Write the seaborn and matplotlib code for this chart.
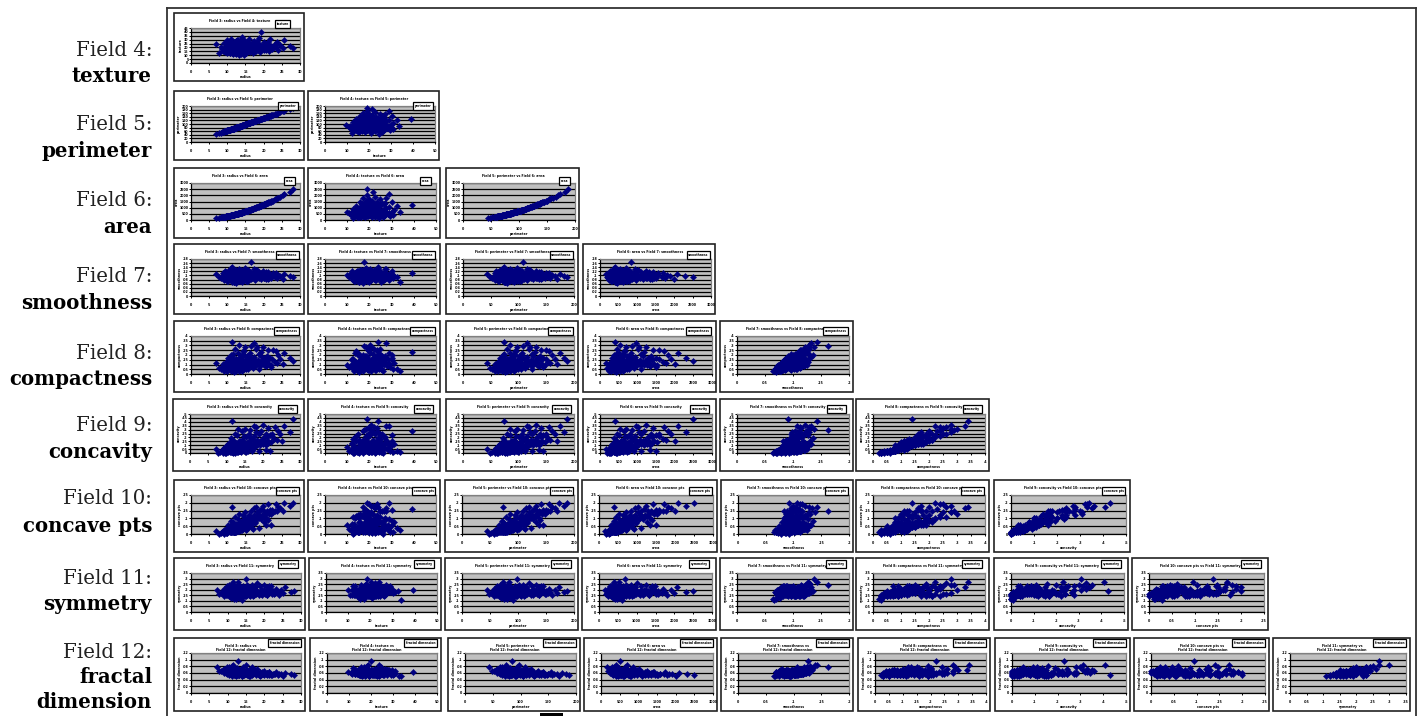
import numpy as np
import pandas as pd
import matplotlib
matplotlib.use("Agg")
import matplotlib.pyplot as plt
from matplotlib.patches import Rectangle
import seaborn as sns

radius = [7.0,7.7,8.2,8.6,8.9,9.0,9.3,9.5,9.7,9.8,
  10.0,10.2,10.3,10.5,10.6,10.7,10.9,11.0,11.1,11.2,
  11.3,11.4,11.5,11.6,11.7,11.8,11.9,12.0,12.0,12.1,
  12.2,12.3,12.4,12.5,12.5,12.6,12.7,12.8,12.9,13.0,
  13.0,13.1,13.2,13.3,13.4,13.4,13.5,13.6,13.7,13.8,
  13.9,14.0,14.1,14.2,14.3,14.4,14.5,14.6,14.7,14.8,
  14.9,15.0,15.1,15.3,15.5,15.6,15.8,16.0,16.1,16.3,
  16.5,16.7,17.0,17.2,17.4,17.6,17.8,18.0,18.2,18.4,
  18.6,18.8,19.0,19.2,19.4,19.6,19.8,20.0,20.2,20.4,
  20.6,20.8,21.0,21.2,21.4,21.7,22.0,22.3,23.0,23.3,
  23.6,24.0,24.6,25.2,25.7,27.2,28.1,
  9.2,9.6,10.1,10.4,10.8,11.0,11.3,11.5,11.8,12.0,
  12.2,12.4,12.6,12.8,13.0,13.2,13.4,13.6,13.8,14.0,
  9.4,9.9,10.3,10.7,11.1,11.4,11.7,12.1,12.3,12.5,
  12.7,12.9,13.1,13.3,13.5,13.7,13.9,14.1,14.3,14.5,
  14.7,15.0,15.2,15.4,15.7,16.0,16.3,16.6,17.0,17.4,
  10.0,10.6,11.2,11.6,11.9,12.2,12.6,13.0,13.4,13.8,
  14.2,14.6,15.1,15.6,16.2,16.8,17.5,18.1,18.7,19.3,
  20.0,20.6,21.2,21.9,22.5,11.4,11.9,12.3,12.9,13.5]
texture = [24.5,12.4,21.0,18.2,15.3,26.0,14.8,22.5,17.0,12.9,
  29.5,17.5,19.2,15.6,24.0,13.4,20.6,16.4,30.7,14.9,
  18.1,23.1,11.9,20.0,15.1,26.6,17.8,13.7,22.0,19.0,
  15.0,28.2,16.7,12.0,24.4,18.9,21.4,14.2,20.2,17.2,
  25.0,15.5,19.9,10.8,22.8,16.1,27.9,18.4,13.4,21.0,
  16.8,33.8,19.3,14.5,23.6,17.5,9.7,20.7,25.6,15.9,
  18.6,22.1,13.0,27.2,16.3,21.6,19.0,31.1,14.9,24.2,
  17.7,20.4,12.5,26.4,18.8,23.0,15.4,21.9,28.9,17.1,
  19.7,24.9,14.1,22.3,39.3,18.0,20.8,16.5,26.8,21.5,
  17.8,25.7,19.5,23.2,15.7,30.4,21.3,18.6,24.8,20.0,
  27.4,17.3,22.6,19.0,29.0,21.5,18.9,
  16.0,20.5,14.2,23.3,18.4,27.1,12.8,19.6,25.2,15.1,
  21.7,17.3,29.0,13.9,22.4,16.6,24.8,18.9,11.5,20.1,
  14.6,26.4,19.0,17.0,23.9,15.5,21.2,13.2,28.3,18.1,
  16.9,24.1,20.3,12.1,19.5,26.0,15.8,22.2,17.7,30.2,
  14.1,20.9,25.5,18.2,16.3,23.5,13.6,21.1,19.2,27.7,
  17.4,12.6,22.9,15.2,20.0,24.6,18.7,14.8,28.8,16.2,
  21.8,19.9,13.3,25.9,17.9,22.7,15.9,20.6,32.5,18.5,
  24.3,16.8,27.0,21.0,19.4,23.8,14.4,17.1,30.0,20.4]
perimeter = [44,49,52,55,57,58,60,61,63,63,
  64,65,66,67,68,69,70,71,71,72,
  73,73,74,75,75,76,77,77,78,78,
  79,79,80,81,80,81,82,83,84,84,
  85,85,86,86,87,87,88,88,90,90,
  90,91,92,93,94,94,95,96,96,97,
  98,98,99,101,102,103,104,105,106,108,
  109,110,112,113,115,116,118,119,120,122,
  123,125,126,127,129,130,132,133,134,136,
  137,138,140,141,142,145,148,150,153,155,
  157,160,166,170,174,182,188,
  59,61,65,67,69,71,73,74,76,77,
  78,80,81,82,84,85,86,88,89,90,
  60,63,66,69,72,73,75,78,79,81,
  82,83,85,86,87,88,90,91,93,94,
  96,97,99,101,103,105,107,110,112,115,
  64,68,72,74,76,79,81,83,87,89,
  92,95,98,103,106,111,116,120,124,127,
  132,137,140,145,150,74,77,80,84,88]
area = [150,180,205,228,240,250,265,280,290,298,
  310,320,330,340,350,357,370,380,385,395,
  400,405,415,420,430,435,440,450,448,455,
  460,470,475,480,485,490,500,510,520,530,
  525,535,545,550,560,555,570,575,585,595,
  605,610,625,635,640,650,660,670,680,690,
  700,710,715,730,750,760,790,800,815,830,
  850,880,900,930,950,975,1000,1020,1050,1070,
  1090,1110,1140,1170,1190,1210,1240,1260,1290,1310,
  1340,1370,1390,1420,1450,1490,1520,1570,1680,1710,
  1760,1810,1900,2000,2080,2300,2500,
  262,285,315,335,362,378,398,412,433,447,
  462,477,492,508,524,541,557,574,592,609,
  273,303,328,355,385,405,426,455,470,485,
  500,516,532,549,566,583,600,618,636,654,
  672,700,720,740,770,800,830,865,910,955,
  310,349,390,420,440,460,493,526,555,590,
  628,660,710,755,822,885,965,1035,1100,1160,
  1250,1330,1400,1490,1575,402,438,466,512,560]
smoothness = [.106,.092,.087,.098,.112,.078,.103,.085,.119,.072,
  .095,.108,.083,.125,.090,.101,.076,.114,.088,.097,
  .130,.081,.105,.092,.069,.110,.099,.086,.118,.094,
  .075,.104,.089,.122,.096,.082,.109,.093,.127,.084,
  .100,.071,.113,.091,.106,.079,.098,.117,.087,.103,
  .095,.066,.111,.090,.124,.085,.102,.077,.108,.094,
  .138,.083,.099,.115,.088,.105,.073,.096,.120,.092,
  .163,.086,.107,.097,.112,.080,.101,.128,.091,.104,
  .089,.116,.095,.084,.110,.098,.121,.087,.103,.093,
  .082,.109,.097,.115,.090,.106,.086,.100,.094,.112,
  .088,.104,.096,.083,.107,.099,.091,
  .085,.110,.075,.121,.094,.132,.080,.101,.068,.115,
  .090,.127,.083,.106,.078,.119,.097,.072,.112,.087,
  .124,.079,.103,.092,.136,.070,.108,.084,.098,.117,
  .076,.105,.129,.088,.113,.081,.095,.122,.074,.100,
  .118,.086,.107,.073,.126,.091,.110,.082,.099,.133,
  .077,.114,.093,.104,.069,.120,.089,.109,.080,.125,
  .096,.116,.071,.102,.087,.111,.083,.128,.094,.106,
  .090,.119,.085,.100,.113,.143,.097,.065,.123,.078]
compactness = [.12,.06,.05,.07,.11,.03,.08,.04,.13,.03,
  .07,.10,.04,.15,.06,.07,.03,.12,.05,.08,
  .19,.04,.09,.06,.02,.11,.07,.05,.14,.07,
  .03,.10,.06,.16,.08,.05,.12,.08,.22,.05,
  .09,.03,.13,.07,.10,.04,.08,.17,.06,.11,
  .09,.03,.15,.08,.24,.06,.10,.05,.13,.09,
  .28,.07,.11,.19,.08,.13,.05,.12,.20,.10,
  .29,.09,.16,.12,.18,.08,.14,.26,.11,.15,
  .10,.21,.13,.09,.23,.14,.28,.10,.17,.12,
  .08,.19,.15,.25,.11,.17,.10,.16,.13,.24,
  .12,.20,.16,.11,.22,.17,.14,
  .10,.07,.07,.10,.15,.18,.10,.05,.05,.09,
  .12,.13,.09,.06,.10,.09,.18,.08,.07,.13,
  .11,.11,.17,.14,.20,.06,.07,.12,.16,.10,
  .09,.05,.30,.15,.06,.13,.19,.09,.09,.20,
  .24,.15,.05,.08,.15,.19,.22,.12,.06,.33,
  .10,.07,.16,.21,.04,.26,.13,.08,.11,.10,
  .21,.11,.07,.16,.17,.09,.14,.28,.05,.19,
  .15,.08,.16,.07,.25,.34,.04,.03,.15,.12]
concavity = [.05,.0,.01,.02,.04,.0,.03,.0,.09,.0,
  .02,.05,.01,.11,.02,.03,.01,.07,.01,.03,
  .16,.01,.04,.02,.0,.06,.03,.01,.10,.03,
  .01,.05,.02,.13,.04,.02,.08,.04,.23,.02,
  .05,.01,.09,.03,.06,.02,.05,.15,.03,.08,
  .06,.01,.13,.05,.28,.04,.08,.03,.12,.07,
  .31,.05,.09,.20,.06,.13,.03,.11,.24,.09,
  .30,.08,.18,.12,.22,.08,.15,.33,.11,.17,
  .11,.25,.15,.10,.28,.17,.36,.13,.21,.16,
  .10,.24,.20,.32,.15,.23,.14,.22,.18,.33,
  .17,.28,.24,.16,.34,.27,.43,
  .06,.03,.03,.07,.10,.12,.06,.01,.01,.05,
  .08,.09,.04,.02,.05,.04,.15,.03,.02,.08,
  .06,.05,.12,.10,.19,.02,.03,.07,.11,.05,
  .04,.01,.31,.11,.02,.08,.14,.04,.04,.16,
  .22,.11,.01,.03,.10,.15,.20,.08,.02,.35,
  .05,.03,.11,.17,.01,.24,.09,.03,.06,.05,
  .17,.07,.03,.12,.14,.04,.09,.27,.02,.15,
  .11,.04,.13,.03,.24,.41,.01,.0,.10,.07]
concave_pts = [.02,.0,.005,.01,.015,.0,.012,.004,.03,.006,
  .013,.022,.01,.045,.016,.018,.012,.033,.012,.02,
  .06,.014,.024,.019,.01,.032,.022,.016,.048,.024,
  .016,.03,.021,.062,.029,.023,.042,.03,.095,.025,
  .034,.02,.05,.03,.04,.025,.036,.075,.032,.05,
  .043,.028,.068,.042,.125,.04,.056,.038,.072,.054,
  .14,.05,.064,.105,.06,.08,.052,.08,.12,.075,
  .147,.075,.11,.09,.125,.08,.105,.17,.095,.12,
  .10,.145,.115,.10,.16,.125,.18,.115,.145,.13,
  .105,.15,.14,.19,.13,.155,.13,.155,.15,.19,
  .145,.175,.165,.15,.20,.18,.20,
  .028,.017,.017,.035,.048,.058,.034,.015,.012,.032,
  .045,.048,.028,.022,.035,.032,.076,.029,.025,.05,
  .028,.026,.055,.048,.085,.018,.023,.04,.058,.033,
  .03,.018,.13,.06,.024,.05,.075,.035,.035,.085,
  .11,.06,.025,.035,.06,.083,.1,.06,.035,.165,
  .022,.02,.055,.078,.014,.11,.05,.028,.04,.04,
  .087,.05,.035,.07,.08,.04,.07,.14,.04,.095,
  .08,.06,.09,.055,.14,.17,.02,.013,.06,.045]
symmetry = [.20,.16,.17,.19,.21,.14,.18,.16,.23,.15,
  .18,.19,.17,.24,.15,.20,.13,.21,.18,.17,
  .25,.16,.20,.18,.12,.19,.17,.16,.22,.19,
  .14,.18,.16,.20,.19,.15,.21,.17,.27,.16,
  .18,.13,.22,.15,.17,.14,.20,.19,.16,.21,
  .17,.11,.19,.18,.23,.15,.20,.16,.18,.17,
  .30,.14,.19,.24,.17,.16,.15,.18,.21,.16,
  .24,.17,.20,.15,.22,.16,.19,.26,.18,.17,
  .15,.23,.19,.16,.20,.17,.24,.18,.16,.19,
  .15,.22,.17,.23,.18,.20,.16,.19,.17,.21,
  .18,.15,.20,.17,.22,.18,.19,
  .21,.15,.19,.16,.22,.18,.20,.14,.18,.16,
  .20,.17,.23,.15,.19,.14,.22,.19,.15,.20,
  .16,.21,.14,.22,.19,.17,.15,.23,.20,.15,
  .19,.14,.20,.23,.14,.21,.16,.15,.20,.17,
  .14,.22,.15,.20,.19,.14,.16,.21,.15,.22,
  .19,.15,.22,.14,.17,.16,.23,.15,.21,.17,
  .14,.16,.20,.22,.15,.14,.21,.17,.19,.15,
  .20,.15,.21,.23,.16,.27,.14,.12,.18,.22]
fractal = [.078,.066,.065,.069,.072,.060,.068,.063,.078,.058,
  .070,.071,.065,.078,.062,.068,.058,.072,.065,.067,
  .081,.062,.067,.063,.055,.068,.066,.061,.073,.064,
  .057,.066,.062,.074,.065,.060,.067,.063,.097,.059,
  .063,.055,.068,.060,.063,.056,.062,.070,.059,.065,
  .062,.051,.066,.059,.078,.058,.063,.056,.064,.060,
  .083,.056,.061,.069,.058,.062,.052,.061,.072,.058,
  .077,.055,.062,.059,.066,.054,.060,.073,.056,.061,
  .055,.064,.058,.054,.062,.057,.067,.055,.060,.056,
  .053,.060,.057,.063,.055,.058,.054,.058,.056,.062,
  .054,.058,.056,.052,.060,.057,.055,
  .066,.060,.070,.062,.058,.070,.068,.056,.063,.060,
  .069,.064,.055,.058,.066,.060,.056,.062,.058,.070,
  .064,.072,.055,.067,.075,.060,.056,.065,.068,.058,
  .064,.054,.070,.068,.056,.066,.052,.060,.066,.055,
  .058,.068,.054,.062,.065,.052,.056,.063,.068,.070,
  .068,.056,.052,.058,.064,.060,.066,.055,.062,.063,
  .053,.056,.060,.054,.062,.056,.064,.060,.052,.058,
  .056,.060,.062,.054,.057,.085,.055,.050,.060,.066]

xFields = ["radius", "texture", "perimeter", "area", "smoothness", "compactness", "concavity", "concave pts", "symmetry"]
yFields = ["texture", "perimeter", "area", "smoothness", "compactness", "concavity", "concave pts", "symmetry", "fractal dimension"]
fieldNumbers = [3, 4, 5, 6, 7, 8, 9, 10, 11]
rowNumbers = [4, 5, 6, 7, 8, 9, 10, 11, 12]

data = pd.DataFrame({"radius": radius, "texture": texture, "perimeter": perimeter, "area": area,
  "smoothness": smoothness, "compactness": compactness, "concavity": concavity,
  "concave pts": concave_pts, "symmetry": symmetry, "fractal dimension": fractal})

xTicks = {"radius": (30, 5), "texture": (50, 10), "perimeter": (200, 50), "area": (3000, 500),
  "smoothness": (.2, .05), "compactness": (.4, .05), "concavity": (.5, .1), "concave pts": (.25, .05), "symmetry": (.35, .05)}
yTicks = {"texture": (45, 5), "perimeter": (200, 20), "area": (3000, 500), "smoothness": (.18, .02),
  "compactness": (.4, .05), "concavity": (.5, .05), "concave pts": (.25, .05), "symmetry": (.35, .05), "fractal dimension": (.12, .02)}

# card edges in pixels, one row of the triangle at a time
rowY = [(13, 81), (91, 160), (168, 238), (244, 314), (321, 392), (399, 471), (480, 552), (558, 630), (638, 711)]
colX = [
  [(174, 304)],
  [(174, 304), (308, 439)],
  [(174, 304), (308, 440), (446, 579)],
  [(174, 304), (308, 440), (446, 578), (583, 715)],
  [(174, 304), (308, 440), (446, 578), (583, 716), (720, 853)],
  [(173, 304), (308, 440), (446, 578), (583, 716), (720, 853), (856, 989)],
  [(174, 304), (308, 440), (445, 578), (582, 717), (721, 853), (856, 989), (994, 1130)],
  [(174, 305), (309, 441), (445, 578), (582, 716), (720, 853), (856, 989), (994, 1128), (1132, 1268)],
  [(174, 305), (310, 441), (448, 580), (584, 717), (721, 853), (858, 990), (995, 1130), (1134, 1269), (1273, 1410)],
]
labelY = [(51, 76), (125, 151), (201, 227), (277, 303), (354, 379), (426, 452), (499, 526), (578, 604), (652, 677, 702)]
legendAbove = [4, 0, 2, 4, 5, 5, 4, 9, 10]   # px from legend centre up to plot top
legendRight = [10, 2, 5, 1, 1, 3, 1, 3, 0]   # px from legend right edge to plot right

W, H = 1422, 716
tinyFont = 2.3


def pixelRect(x0, y0, x1, y1):
  return [x0 / W, 1 - y1 / H, (x1 - x0) / W, (y1 - y0) / H]


def tickFormat(v):
  return ("%g" % v).replace("0.", ".") if v < 1 else "%g" % v


def drawPanel(fig, r, c, card):
  xName = xFields[c]
  yName = yFields[r]
  x0, x1, y0, y1 = card
  fig.add_artist(Rectangle((x0 / W, 1 - y1 / H), (x1 - x0) / W, (y1 - y0) / H, transform=fig.transFigure,
    facecolor="white", edgecolor="#222222", linewidth=1.2, zorder=-1))
  axLeft, axRight, axTop, axBottom = x0 + 17, x1 - 4, y0 + 15, y1 - 18
  ax = fig.add_axes(pixelRect(axLeft, axTop, axRight, axBottom))
  ax.set_facecolor("#C0C0C0")
  xMax, xStep = xTicks[xName]
  yMax, yStep = yTicks[yName]
  sns.scatterplot(data=data, x=xName, y=yName, ax=ax, color="#000080", marker="D", s=10, linewidth=0.3,
    edgecolor="#000080", clip_on=False, zorder=3)
  ax.set_xlim(0, xMax)
  ax.set_ylim(0, yMax)
  xt = np.arange(0, xMax + xStep / 2, xStep)
  yt = np.arange(0, yMax + yStep / 2, yStep)
  ax.set_xticks(xt)
  ax.set_yticks(yt)
  ax.set_xticklabels([tickFormat(v) for v in xt], fontsize=tinyFont, fontweight="bold")
  ax.set_yticklabels([tickFormat(v) for v in yt], fontsize=tinyFont, fontweight="bold")
  ax.tick_params(axis="x", length=1.2, width=0.7, pad=4, color="black")
  ax.tick_params(axis="y", length=1.2, width=0.7, pad=0.6, color="black")
  ax.grid(axis="y", color="black", linewidth=0.9, zorder=1)
  ax.set_axisbelow(True)
  ax.set_xlabel(xName, fontsize=tinyFont, fontweight="bold", labelpad=0.5)
  ax.set_ylabel(yName, fontsize=tinyFont, fontweight="bold", labelpad=0.5)
  for side in ["left", "bottom"]:
    ax.spines[side].set_color("black")
    ax.spines[side].set_linewidth(0.9)
  for side in ["top", "right"]:
    ax.spines[side].set_color("#808080")
    ax.spines[side].set_linewidth(0.9)

  axH = axBottom - axTop
  axW = axRight - axLeft
  title = "Field %d: %s vs Field %d: %s" % (fieldNumbers[c], xName, rowNumbers[r], yName)
  titleAbove = 7
  if r == 8:
    title = "Field %d: %s vs\nField %d: %s" % (fieldNumbers[c], xName, rowNumbers[r], yName)
    titleAbove = 5
  ax.text(0.45, 1 + titleAbove / axH, title, transform=ax.transAxes, fontsize=tinyFont, fontweight="bold",
    ha="center", va="center", linespacing=0.9, clip_on=False)
  ax.text(1 - (legendRight[r] + 1.5) / axW, 1 + legendAbove[r] / axH, yName, transform=ax.transAxes,
    fontsize=2.2, fontweight="bold", ha="right", va="center",
    bbox=dict(facecolor="white", edgecolor="black", linewidth=0.9, boxstyle="square,pad=0.5"), zorder=5)


fig = plt.figure(figsize=(W / 100, H / 100), dpi=100, facecolor="white")

# outer frame, open at the bottom because the page cuts it
for xs, ys in [((167, 167), (8, 716)), ((167, 1416), (8, 8)), ((1416, 1416), (8, 716))]:
  fig.add_artist(plt.Line2D([v / W for v in xs], [1 - v / H for v in ys], color="#333333", linewidth=1.3, zorder=-2))
fig.add_artist(Rectangle((540 / W, 0), 23 / W, 3 / H, transform=fig.transFigure, facecolor="black", edgecolor="none"))

for r, yName in enumerate(yFields):
  y0, y1 = rowY[r]
  for c, (x0, x1) in enumerate(colX[r]):
    drawPanel(fig, r, c, (x0, x1, y0, y1))
  words = yName.split(" ") if yName == "fractal dimension" else [yName]
  fig.text(152 / W, 1 - labelY[r][0] / H, "Field %d:" % rowNumbers[r], ha="right", va="center",
    family="DejaVu Serif", fontsize=14.2, color="#222222")
  for i, word in enumerate(words):
    fig.text(152 / W, 1 - labelY[r][i + 1] / H, word, ha="right", va="center",
      family="DejaVu Serif", fontsize=14.2, fontweight="bold", color="black")

fig.savefig("out.png", dpi=100)
